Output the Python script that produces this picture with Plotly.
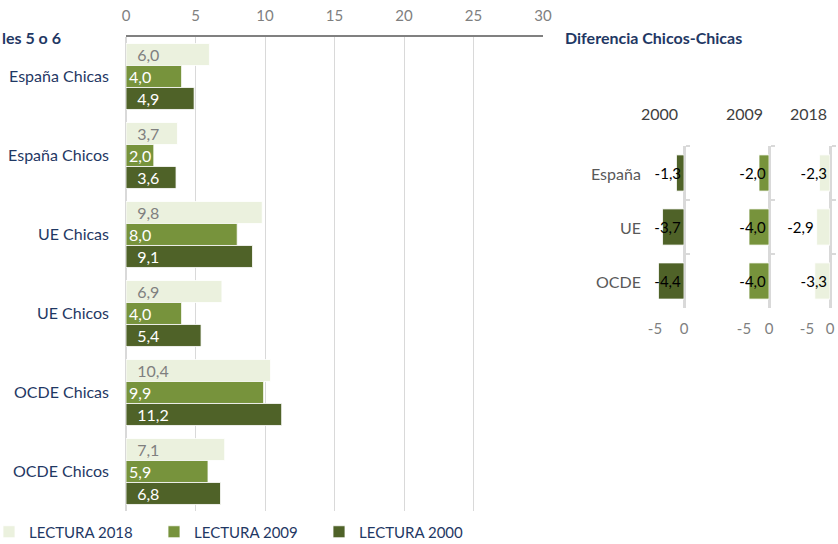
import plotly.graph_objects as go

categories = ["España Chicas", "España Chicos", "UE Chicas", "UE Chicos", "OCDE Chicas", "OCDE Chicos"]
lectura_2018 = [6.0, 3.7, 9.8, 6.9, 10.4, 7.1]
lectura_2009 = [4.0, 2.0, 8.0, 4.0, 9.9, 5.9]
lectura_2000 = [4.9, 3.6, 9.1, 5.4, 11.2, 6.8]

diff_regions = ["España", "UE", "OCDE"]
diff_2000 = [-1.3, -3.7, -4.4]
diff_2009 = [-2.0, -4.0, -4.0]
diff_2018 = [-2.3, -2.9, -3.3]
diff_years = ["2000", "2009", "2018"]

main_ticks = [0, 5, 10, 15, 20, 25, 30]
diff_tickvals = [-5, 0]
diff_ticktext = ["-5", "0"]

C18, C09, C00 = "#EBF1DE", "#77933C", "#4F6228"
NAVY = "#1F3864"
FONT = "Lato"
W, H = 838, 544
B = 32  # bottom margin (legend sits below the plotting area)
PH = H - B


def px_x(p):
    return p / W


def px_y(p):
    return (PH - p) / PH


fig = go.Figure()

NB = "\u00a0"
for name, vals, col, tcol, tmpl in [
    ("LECTURA 2018", lectura_2018, C18, "#7F7F7F", NB * 2 + "%{x:.1f}"),
    ("LECTURA 2009", lectura_2009, C09, "white", "%{x:.1f}"),
    ("LECTURA 2000", lectura_2000, C00, "white", NB * 2 + "%{x:.1f}"),
]:
    fig.add_trace(go.Bar(
        y=categories, x=vals, orientation="h", name=name,
        marker=dict(color=col, line=dict(color="rgba(255,255,255,0.8)", width=1)),
        texttemplate=tmpl, textposition="inside", insidetextanchor="start",
        textangle=0, constraintext="none",
        textfont=dict(color=tcol, size=16, family=FONT),
        xaxis="x", yaxis="y", hoverinfo="skip",
    ))

panels = [
    (diff_2000, C00, "x2", "y2", ["inside", "inside", "inside"], 655, 684),
    (diff_2009, C09, "x3", "y3", ["inside", "inside", "inside"], 744, 769),
    (diff_2018, C18, "x4", "y4", ["inside", "outside", "inside"], 807, 830),
]
for vals, col, xa, ya, tpos, x0, x1 in panels:
    fig.add_trace(go.Bar(
        y=diff_regions, x=vals, orientation="h", showlegend=False,
        marker=dict(color=col, line=dict(color="rgba(255,255,255,0.8)", width=1)),
        width=0.67,
        texttemplate="%{x:.1f}", textposition=tpos, insidetextanchor="start",
        textangle=0, constraintext="none", cliponaxis=False,
        textfont=dict(color="black", size=15, family=FONT),
        xaxis=xa, yaxis=ya, hoverinfo="skip",
    ))

layout = dict(
    width=W, height=H,
    margin=dict(l=0, r=0, t=0, b=B, autoexpand=False),
    paper_bgcolor="white", plot_bgcolor="white",
    separators=",.",
    barmode="group", bargap=0.165, bargroupgap=0,
    font=dict(family=FONT, size=15, color=NAVY),
    showlegend=True,
    legend=dict(orientation="h", x=-11 / W, xanchor="left", y=px_y(532), yanchor="middle",
                entrywidth=120, entrywidthmode="pixels",
                font=dict(size=15, color=NAVY, family=FONT), itemwidth=30,
                traceorder="normal"),
    xaxis=dict(domain=[px_x(126), px_x(543)], range=[0, 30], side="top",
               tickvals=main_ticks, showgrid=True, gridcolor="#D9D9D9", gridwidth=1,
               zeroline=True, zerolinecolor="#D9D9D9", zerolinewidth=2,
               showline=True, linecolor="#808080", linewidth=2,
               ticks="", ticklabelstandoff=8, automargin=False,
               tickfont=dict(size=15, color="#7F7F7F", family=FONT), fixedrange=True),
    yaxis=dict(domain=[px_y(511), px_y(37)], autorange="reversed",
               showgrid=False, ticks="", ticklabelstandoff=16, automargin=False,
               tickfont=dict(size=16, color=NAVY, family=FONT), fixedrange=True),
)

for i, (vals, col, xa, ya, tpos, x0, x1) in enumerate(panels):
    xk = "xaxis" + xa[1:]
    yk = "yaxis" + ya[1:]
    layout[xk] = dict(domain=[px_x(x0), px_x(x1)], range=[-5, 0], anchor=ya,
                      tickvals=diff_tickvals, ticktext=diff_ticktext,
                      showgrid=True, gridcolor="#D9D9D9", gridwidth=2,
                      zeroline=True, zerolinecolor="#D9D9D9", zerolinewidth=2,
                      showline=False, ticks="", ticklabelstandoff=10, automargin=False,
                      tickfont=dict(size=15, color="#7F7F7F", family=FONT), fixedrange=True)
    layout[yk] = dict(domain=[px_y(308), px_y(146)], anchor=xa, side="right",
                      autorange="reversed", categoryorder="array", categoryarray=diff_regions,
                      showgrid=False, showticklabels=False, automargin=False,
                      showline=True, linecolor="#D9D9D9", linewidth=2,
                      ticks="outside", tickson="boundaries", ticklen=4,
                      tickcolor="#D9D9D9", tickwidth=2, fixedrange=True)

fig.update_layout(**layout)

annotations = [
    dict(text="<b>les 5 o 6</b>", x=0, xref="paper", xanchor="left",
         y=px_y(37), yref="paper", yanchor="middle", showarrow=False,
         font=dict(size=16, color=NAVY, family=FONT)),
    dict(text="<b>Diferencia Chicos-Chicas</b>", x=px_x(563), xref="paper", xanchor="left",
         y=px_y(37), yref="paper", yanchor="middle", showarrow=False,
         font=dict(size=16, color=NAVY, family=FONT)),
]
for yr, cx in zip(diff_years, [659, 744, 808]):
    annotations.append(dict(text=yr, x=px_x(cx), xref="paper", xanchor="center",
                            y=px_y(113), yref="paper", yanchor="middle", showarrow=False,
                            font=dict(size=16, color="#404040", family=FONT)))
for reg in diff_regions:
    annotations.append(dict(text=reg, x=px_x(643), xref="paper", xanchor="right",
                            y=reg, yref="y2", yanchor="middle", showarrow=False,
                            font=dict(size=16, color="#595959", family=FONT)))
fig.update_layout(annotations=annotations)

fig.write_html("out.html", config={"displayModeBar": False},
               post_script="document.body.style.margin='0px';document.body.style.overflow='hidden';")
